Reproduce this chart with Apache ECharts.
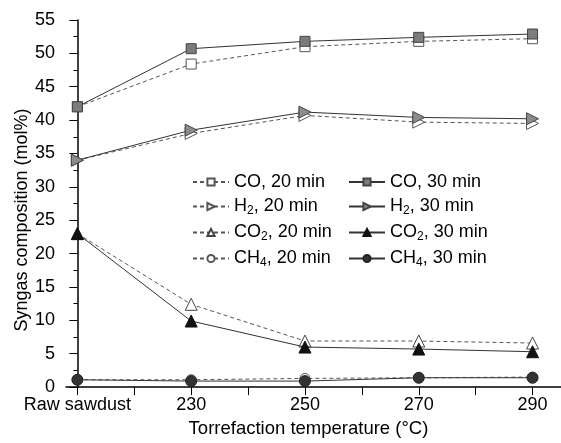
<!DOCTYPE html>
<html>
<head>
<meta charset="utf-8">
<script src="https://cdn.jsdelivr.net/npm/echarts@6/dist/echarts.min.js"></script>
<style>
  html, body { margin: 0; padding: 0; background: #fff; }
  #chart { width: 561px; height: 443px; }
</style>
</head>
<body>
<div id="chart"></div>
<script>
// Categories along the x axis (positions 0..4 on a value axis)
const categories = ['Raw sawdust', '230', '250', '270', '290'];
const yTicks = [0, 5, 10, 15, 20, 25, 30, 35, 40, 45, 50, 55];

// Syngas composition (mol%)
const co20  = [42.0, 48.4, 51.0, 51.8, 52.2];
const co30  = [42.0, 50.7, 51.8, 52.4, 52.9];
const h220  = [34.0, 38.0, 40.7, 39.7, 39.5];
const h230  = [34.0, 38.5, 41.2, 40.4, 40.2];
const co220 = [23.0, 12.4, 6.9, 6.9, 6.6];
const co230 = [23.0, 9.9, 6.0, 5.7, 5.3];
const ch420 = [1.1, 1.1, 1.3, 1.4, 1.5];
const ch430 = [1.1, 0.9, 0.9, 1.4, 1.4];

const FONT = 'Liberation Sans, Arial, sans-serif';

function pts(arr) { return arr.map((v, i) => [i, v]); }

function mkSeries(name, data, symbol, rotate, fill, border, dashed, size) {
  return {
    name: name,
    type: 'line',
    data: pts(data),
    symbol: symbol,
    symbolRotate: rotate,
    symbolSize: size,
    lineStyle: dashed
      ? { color: '#555', width: 1, type: [4, 3] }
      : { color: '#333', width: 1, type: 'solid' },
    itemStyle: { color: fill, borderColor: border, borderWidth: 1 },
    emphasis: { disabled: true },
    animation: false,
    z: dashed ? 2 : 3
  };
}

const series = [
  mkSeries('CO, 20 min',  co20,  'rect', 0, '#fff', '#555', true, 10),
  mkSeries('H2, 20 min',  h220,  'triangle', -90, '#fff', '#555', true, 12),
  mkSeries('CO2, 20 min', co220, 'triangle', 0, '#fff', '#444', true, 12),
  mkSeries('CH4, 20 min', ch420, 'circle', 0, '#fff', '#555', true, 10),
  mkSeries('CO, 30 min',  co30,  'rect', 0, '#7c7c7c', '#444', false, 10),
  mkSeries('H2, 30 min',  h230,  'triangle', -90, '#8c8c8c', '#444', false, 12),
  mkSeries('CO2, 30 min', co230, 'triangle', 0, '#111', '#111', false, 12),
  mkSeries('CH4, 30 min', ch430, 'circle', 0, '#333', '#222', false, 11)
];

function legendFmt(name) {
  const m = name.match(/^([A-Z]+?)(\d)?(, .*)$/);
  if (m && m[2]) return '{t|' + m[1] + '}{s|' + m[2] + '}{t|' + m[3] + '}';
  return '{t|' + name + '}';
}

const legendText = {
  fontFamily: FONT,
  fontSize: 18,
  color: '#000',
  rich: {
    t: { fontFamily: FONT, fontSize: 18, color: '#000', lineHeight: 20 },
    s: { fontFamily: FONT, fontSize: 12, color: '#000', lineHeight: 20, padding: [9, 0, 0, 0] }
  }
};

function mkLegend(left, names) {
  return {
    orient: 'vertical',
    left: left,
    top: 168,
    itemWidth: 36,
    itemHeight: 9,
    itemGap: 5,
    data: names,
    formatter: legendFmt,
    textStyle: legendText,
    selectedMode: false
  };
}

const option = {
  backgroundColor: '#fff',
  animation: false,
  grid: { left: 66, right: 0, top: 20, bottom: 54, containLabel: false },
  legend: [
    mkLegend(187, ['CO, 20 min', 'H2, 20 min', 'CO2, 20 min', 'CH4, 20 min']),
    mkLegend(343, ['CO, 30 min', 'H2, 30 min', 'CO2, 30 min', 'CH4, 30 min'])
  ],
  // y-axis title, placed a little below the axis midpoint
  graphic: [{
    type: 'text',
    x: 22,
    y: 220,
    rotation: Math.PI / 2,
    style: {
      text: 'Syngas composition (mol%)',
      font: '18px ' + FONT,
      fill: '#000',
      textAlign: 'center',
      textVerticalAlign: 'middle'
    }
  }],
  xAxis: {
    type: 'value',
    min: -0.1,
    max: 4.25,
    name: 'Torrefaction temperature (°C)',
    nameLocation: 'middle',
    nameGap: 23,
    nameTextStyle: { fontFamily: FONT, fontSize: 18.5, color: '#000', verticalAlign: 'top', padding: [0, 10, 0, 0] },
    axisLine: { show: true, lineStyle: { color: '#000', width: 1.5 } },
    axisTick: {
      show: true, inside: false, length: 8,
      customValues: [0, 0.5, 1, 1.5, 2, 2.5, 3, 3.5, 4],
      lineStyle: { color: '#000', width: 1 }
    },
    axisLabel: {
      customValues: [0, 1, 2, 3, 4],
      formatter: v => categories[Math.round(v)],
      fontFamily: FONT, fontSize: 18, color: '#000', margin: 9
    },
    splitLine: { show: false }
  },
  yAxis: {
    type: 'value',
    min: 0,
    max: 55,
    interval: 5,
    axisLine: { show: true, lineStyle: { color: '#000', width: 1.5 } },
    axisTick: { show: true, inside: false, length: 8, lineStyle: { color: '#000', width: 1 } },
    minorTick: { show: true, splitNumber: 2, length: 4, lineStyle: { color: '#000', width: 1 } },
    axisLabel: {
      formatter: v => (yTicks.indexOf(v) >= 0 ? String(v) : ''),
      fontFamily: FONT, fontSize: 18, color: '#000', margin: 11
    },
    splitLine: { show: false }
  },
  series: series
};

const chart = echarts.init(document.getElementById('chart'), null, { renderer: 'canvas' });
chart.setOption(option);
</script>
</body>
</html>
